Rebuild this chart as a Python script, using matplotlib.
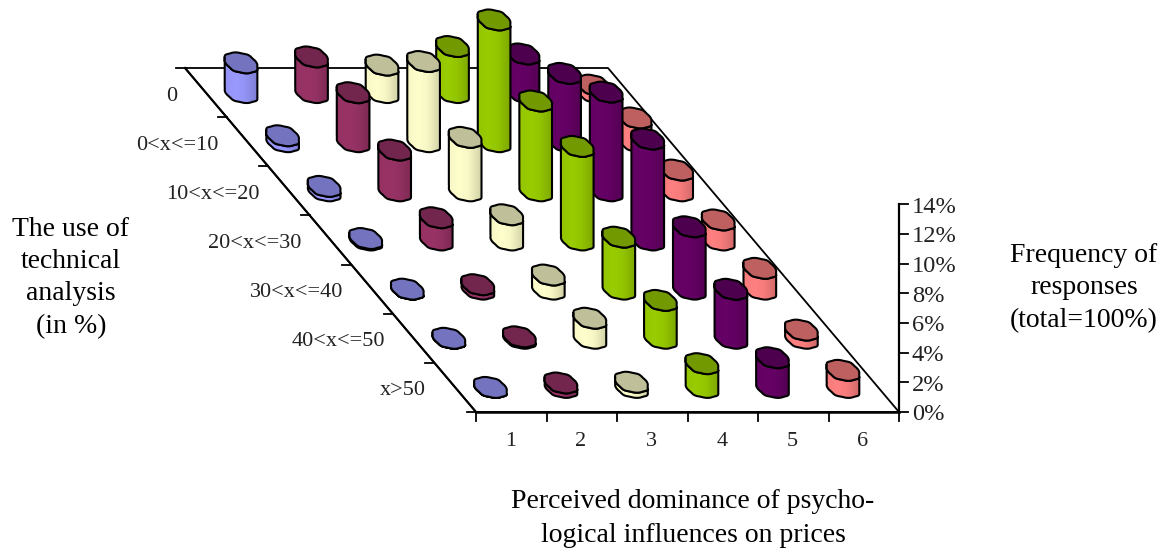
from matplotlib import pyplot as plt
from matplotlib.patches import Polygon
import numpy as np

# frequency of responses in %, one list per dominance class, back row first
class_1 = [2.0, 0.4, 0.3, 0.1, 0.0, 0.0, 0.0]
class_2 = [2.4, 3.3, 2.75, 1.5, 0.3, 0.1, 0.3]
class_3 = [1.85, 5.4, 3.6, 1.7, 0.95, 1.35, 0.35]
class_4 = [3.1, 8.2, 6.05, 6.3, 3.5, 2.55, 1.6]
class_5 = [2.6, 4.6, 6.65, 6.8, 4.2, 3.3, 2.0]
class_6 = [0.5, 1.6, 1.4, 1.35, 1.4, 0.55, 1.15]

row_labels = ['0', '0<x<=10', '10<x<=20', '20<x<=30', '30<x<=40', '40<x<=50', 'x>50']
col_labels = ['1', '2', '3', '4', '5', '6']
pct_ticks = [0, 2, 4, 6, 8, 10, 12, 14]

series = [class_1, class_2, class_3, class_4, class_5, class_6]
body_colors = ['#9999FF', '#993366', '#FFFFCC', '#99CC00', '#660066', '#FF8080']
top_colors = ['#7373BF', '#73264D', '#BFBF99', '#739900', '#4D004D', '#BF6060']

# floor of the chart in pixels
left_back = 185.0
floor_back = 68.0
floor_front = 412.0
col_w = 70.5
shear = 291.0 / 344.0
px_per_pct = 14.85
n_rows = len(row_labels)
row_h = (floor_front - floor_back) / n_rows

serif = 'Liberation Serif'
LW = 1.5


def project(col, row, val=0.0):
    # col and row are floor positions, val lifts the point straight up
    y = floor_back + row * row_h
    x = left_back + col * col_w + (y - floor_back) * shear
    return x, y - val * px_per_pct


def ellipse(cx, cy, t):
    # rounded, slightly bumpy ellipse like the excel cylinder tops
    a, b, s = 15.2, 10.2, 5.5
    c = np.sign(np.cos(t)) * np.abs(np.cos(t)) ** 0.85
    d = np.sign(np.sin(t)) * np.abs(np.sin(t)) ** 0.85
    wob = 1 + 0.025 * np.cos(8 * t)
    return np.column_stack([cx + (a * c + s * d) * wob, cy + b * d * wob])


def cylinder(ax, col, row, val, body, top, z):
    cx, cy = project(col, row)
    tx, ty = project(col, row, val)
    t = np.linspace(0, 2 * np.pi, 181)[:-1]
    ring = ellipse(0, 0, t)
    start = np.argmax(ring[:, 0])
    t_front = np.linspace(t[start], t[np.argmin(ring[:, 0])], 60)
    if t_front[-1] < t_front[0]:
        t_front = np.linspace(t[start], t[np.argmin(ring[:, 0])] + 2 * np.pi, 60)
    pts = np.vstack([ellipse(cx, cy, t_front), ellipse(tx, ty, t_front[::-1])])
    outline = Polygon(pts, closed=True, fc='none', ec='black', lw=LW, zorder=z + 0.2)
    ax.add_patch(outline)

    # shaded side, light near the left third and darker to the right
    rgb = np.array(plt.matplotlib.colors.to_rgb(body))
    shade = np.interp(np.linspace(0, 1, 32), [0, 0.35, 0.6, 1], [0.97, 1.0, 0.97, 0.82])
    grad = (shade[None, :, None] * rgb[None, None, :]).clip(0, 1)
    im = ax.imshow(grad, extent=(cx - 17, cx + 17, cy + 11, ty - 11), aspect='auto',
                   interpolation='bilinear', zorder=z + 0.1)
    clip = Polygon(pts, closed=True, transform=ax.transData)
    im.set_clip_path(clip)

    cap = ellipse(tx, ty, np.linspace(0, 2 * np.pi, 120))
    ax.add_patch(Polygon(cap, closed=True, fc=top, ec='black', lw=LW, zorder=z + 0.3))


fig = plt.figure(figsize=(11.69, 5.52), dpi=100)
ax = fig.add_axes([0, 0, 1, 1])

# floor outline and axes
corners = [project(0, 0), project(len(series), 0), project(len(series), n_rows), project(0, n_rows)]
xs, ys = zip(*(corners + corners[:1]))
ax.plot(xs, ys, color='black', lw=1.3, zorder=1)
x0, y0 = project(0, n_rows)
x1, y1 = project(len(series), n_rows)
ax.plot([x0, x1], [y0, y1], color='black', lw=1.8, zorder=1)
xl, yl = project(0, 0)
ax.plot([xl, x0], [yl, y0], color='black', lw=1.5, zorder=1)

for r in range(n_rows + 1):
    x, y = project(0, r)
    ax.plot([x - 9, x], [y, y], color='black', lw=1.3, zorder=1)
for c in range(len(series) + 1):
    x, y = project(c, n_rows)
    ax.plot([x, x], [y, y + 9], color='black', lw=1.3, zorder=1)

# value axis on the right
ax.plot([x1, x1], [y1, y1 - pct_ticks[-1] * px_per_pct], color='black', lw=1.6, zorder=1)
for p in pct_ticks:
    y = y1 - p * px_per_pct
    ax.plot([x1, x1 + 9], [y, y], color='black', lw=1.3, zorder=1)
    ax.text(x1 + 13, y + 3, '%d%%' % p, family=serif, fontsize=17.6, color='#222222',
            ha='left', va='center')

# back rows first so the front ones cover them
z = 2
for r in range(n_rows):
    for c, vals in enumerate(series):
        cylinder(ax, c + 0.5, r + 0.5, vals[r], body_colors[c], top_colors[c], z)
        z += 1

for r, lab in enumerate(row_labels):
    x, y = project(0, r + 0.5)
    ax.text(x - 29, y + 3.5, lab, family=serif, fontsize=16, color='#222222', ha='right', va='center')
for c, lab in enumerate(col_labels):
    x, y = project(c + 0.5, n_rows)
    ax.text(x - 1, y + 30, lab, family=serif, fontsize=16, color='#222222', ha='center', va='center')

for txt, y in zip(['The use of', 'technical', 'analysis', '(in %)'], [229, 261, 293, 327]):
    ax.text(71, y, txt, family=serif, fontsize=20, ha='center', va='center')
for txt, y in zip(['Frequency of', 'responses', '(total=100%)'], [255, 287, 321]):
    ax.text(1084, y, txt, family=serif, fontsize=20, ha='center', va='center')
for txt, y in zip(['Perceived dominance of psycho-', 'logical influences on prices'], [502, 536]):
    ax.text(693, y, txt, family=serif, fontsize=20, ha='center', va='center')

ax.set_xlim(0, 1169)
ax.set_ylim(552, 0)
ax.axis('off')
fig.savefig('out.png', dpi=100)
